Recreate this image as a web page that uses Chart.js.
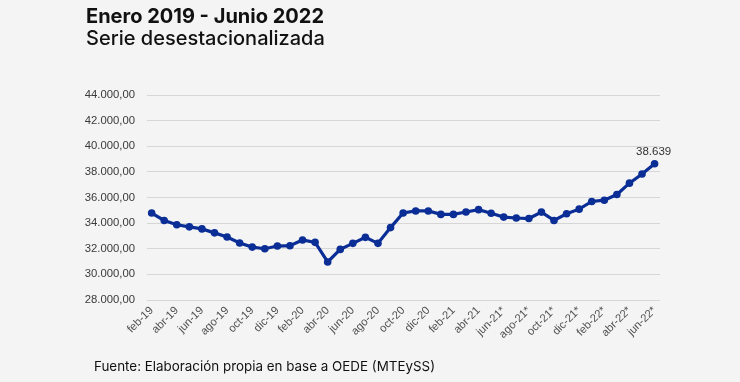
<!DOCTYPE html>
<html>
<head>
<meta charset="utf-8">
<script src="https://cdn.jsdelivr.net/npm/chart.js@4.4.0/dist/chart.umd.min.js"></script>
<style>
  html, body { margin: 0; padding: 0; background: #f4f4f4; }
  #wrap { position: relative; width: 740px; height: 382px; overflow: hidden; background: #f4f4f4; }
  #chart { position: absolute; left: 0; top: 0; width: 740px; height: 382px; }
  .t1 { position: absolute; left: 86px; top: 4px; font-family: Inter, "Noto Sans", sans-serif; font-weight: 700; font-size: 20px; color: #111; white-space: nowrap; }
  .t2 { position: absolute; left: 86px; top: 26px; font-family: Inter, "Noto Sans", sans-serif; font-weight: 500; font-size: 20px; color: #111; white-space: nowrap; }
  .src { position: absolute; left: 94px; top: 358px; font-family: Inter, "Noto Sans", sans-serif; font-size: 13.4px; color: #111; white-space: nowrap; }
</style>
</head>
<body>
<div id="wrap">
  <canvas id="chart" width="740" height="382"></canvas>
  <div class="t1">Enero 2019 - Junio 2022</div>
  <div class="t2">Serie desestacionalizada</div>
  <div class="src">Fuente: Elaboración propia en base a OEDE (MTEySS)</div>
</div>
<script>
// Monthly months feb-19 .. jun-22 (41 points)
const months = [
  "feb-19","mar-19","abr-19","may-19","jun-19","jul-19","ago-19","sep-19","oct-19","nov-19","dic-19",
  "ene-20","feb-20","mar-20","abr-20","may-20","jun-20","jul-20","ago-20","sep-20","oct-20","nov-20","dic-20",
  "ene-21","feb-21","mar-21","abr-21","may-21","jun-21*","jul-21*","ago-21*","sep-21*","oct-21*","nov-21*","dic-21*",
  "ene-22*","feb-22*","mar-22*","abr-22*","may-22*","jun-22*"
];
// Axis labels (every other month)
const tickLabels = [
  "feb-19","abr-19","jun-19","ago-19","oct-19","dic-19",
  "feb-20","abr-20","jun-20","ago-20","oct-20","dic-20",
  "feb-21","abr-21","jun-21*","ago-21*","oct-21*","dic-21*",
  "feb-22*","abr-22*","jun-22*"
];
const values = [
  34790, 34210, 33870, 33710, 33550, 33240, 32920, 32450, 32130, 32000,
  32210, 32240, 32680, 32500, 30970, 31950, 32420, 32890, 32420, 33650,
  34790, 34950, 34950, 34680, 34680, 34870, 35050, 34770, 34470, 34400,
  34360, 34860, 34210, 34730, 35090, 35690, 35790, 36230, 37120, 37840,
  38639
];
const yTicks = [28000, 30000, 32000, 34000, 36000, 38000, 40000, 42000, 44000];

function fmtThousands(n, dec) {
  const neg = n < 0; n = Math.abs(n);
  let s = dec ? n.toFixed(dec) : String(Math.round(n));
  let [ip, fp] = s.split('.');
  ip = ip.replace(/\B(?=(\d{3})+(?!\d))/g, '.');
  return (neg ? '-' : '') + ip + (fp ? ',' + fp : '');
}

const points = values.map((v, i) => ({ x: i, y: v }));

const lastLabel = {
  id: 'lastLabel',
  afterDatasetsDraw(chart) {
    const meta = chart.getDatasetMeta(0);
    const i = values.length - 1;
    const el = meta.data[i];
    const ctx = chart.ctx;
    ctx.save();
    ctx.font = '11.5px "Liberation Sans", Arial, sans-serif';
    ctx.fillStyle = '#333333';
    ctx.textAlign = 'center';
    ctx.textBaseline = 'bottom';
    ctx.fillText(fmtThousands(values[i], 0), el.x - 1, el.y - 6);
    ctx.restore();
  }
};

new Chart(document.getElementById('chart'), {
  type: 'line',
  data: {
    datasets: [{
      data: points,
      borderColor: '#0a2d96',
      backgroundColor: '#0a2d96',
      borderWidth: 3.2,
      pointRadius: 3.8,
      pointBorderWidth: 0,
      pointBackgroundColor: '#0a2d96',
      tension: 0
    }]
  },
  options: {
    responsive: false,
    animation: false,
    layout: { padding: { left: 80, right: 80, top: 95, bottom: 32 } },
    plugins: { legend: { display: false }, tooltip: { enabled: false }, title: { display: false } },
    scales: {
      x: {
        type: 'linear',
        min: -0.37,
        max: 40.43,
        grid: { display: false, drawTicks: false },
        border: { display: false },
        afterFit(scale) { scale.height = 50; },
        afterBuildTicks(scale) {
          scale.ticks = tickLabels.map((_, k) => ({ value: k * 2 }));
        },
        ticks: {
          autoSkip: false,
          maxRotation: 45,
          minRotation: 45,
          padding: 4,
          color: '#505050',
          font: { family: '"Liberation Sans", Arial, sans-serif', size: 11.2 },
          callback: (v) => tickLabels[Math.round(v / 2)]
        }
      },
      y: {
        min: 28000,
        max: 44000,
        afterBuildTicks(scale) { scale.ticks = yTicks.map(v => ({ value: v })); },
        afterFit(scale) { scale.width = 67; },
        grid: { color: '#d6d6d6', lineWidth: 1, drawTicks: false },
        border: { display: false },
        ticks: {
          padding: 12,
          color: '#3a3a3a',
          font: { family: '"Liberation Sans", Arial, sans-serif', size: 11.3 },
          callback: (v) => fmtThousands(v, 2)
        }
      }
    }
  },
  plugins: [lastLabel]
});
</script>
</body>
</html>
